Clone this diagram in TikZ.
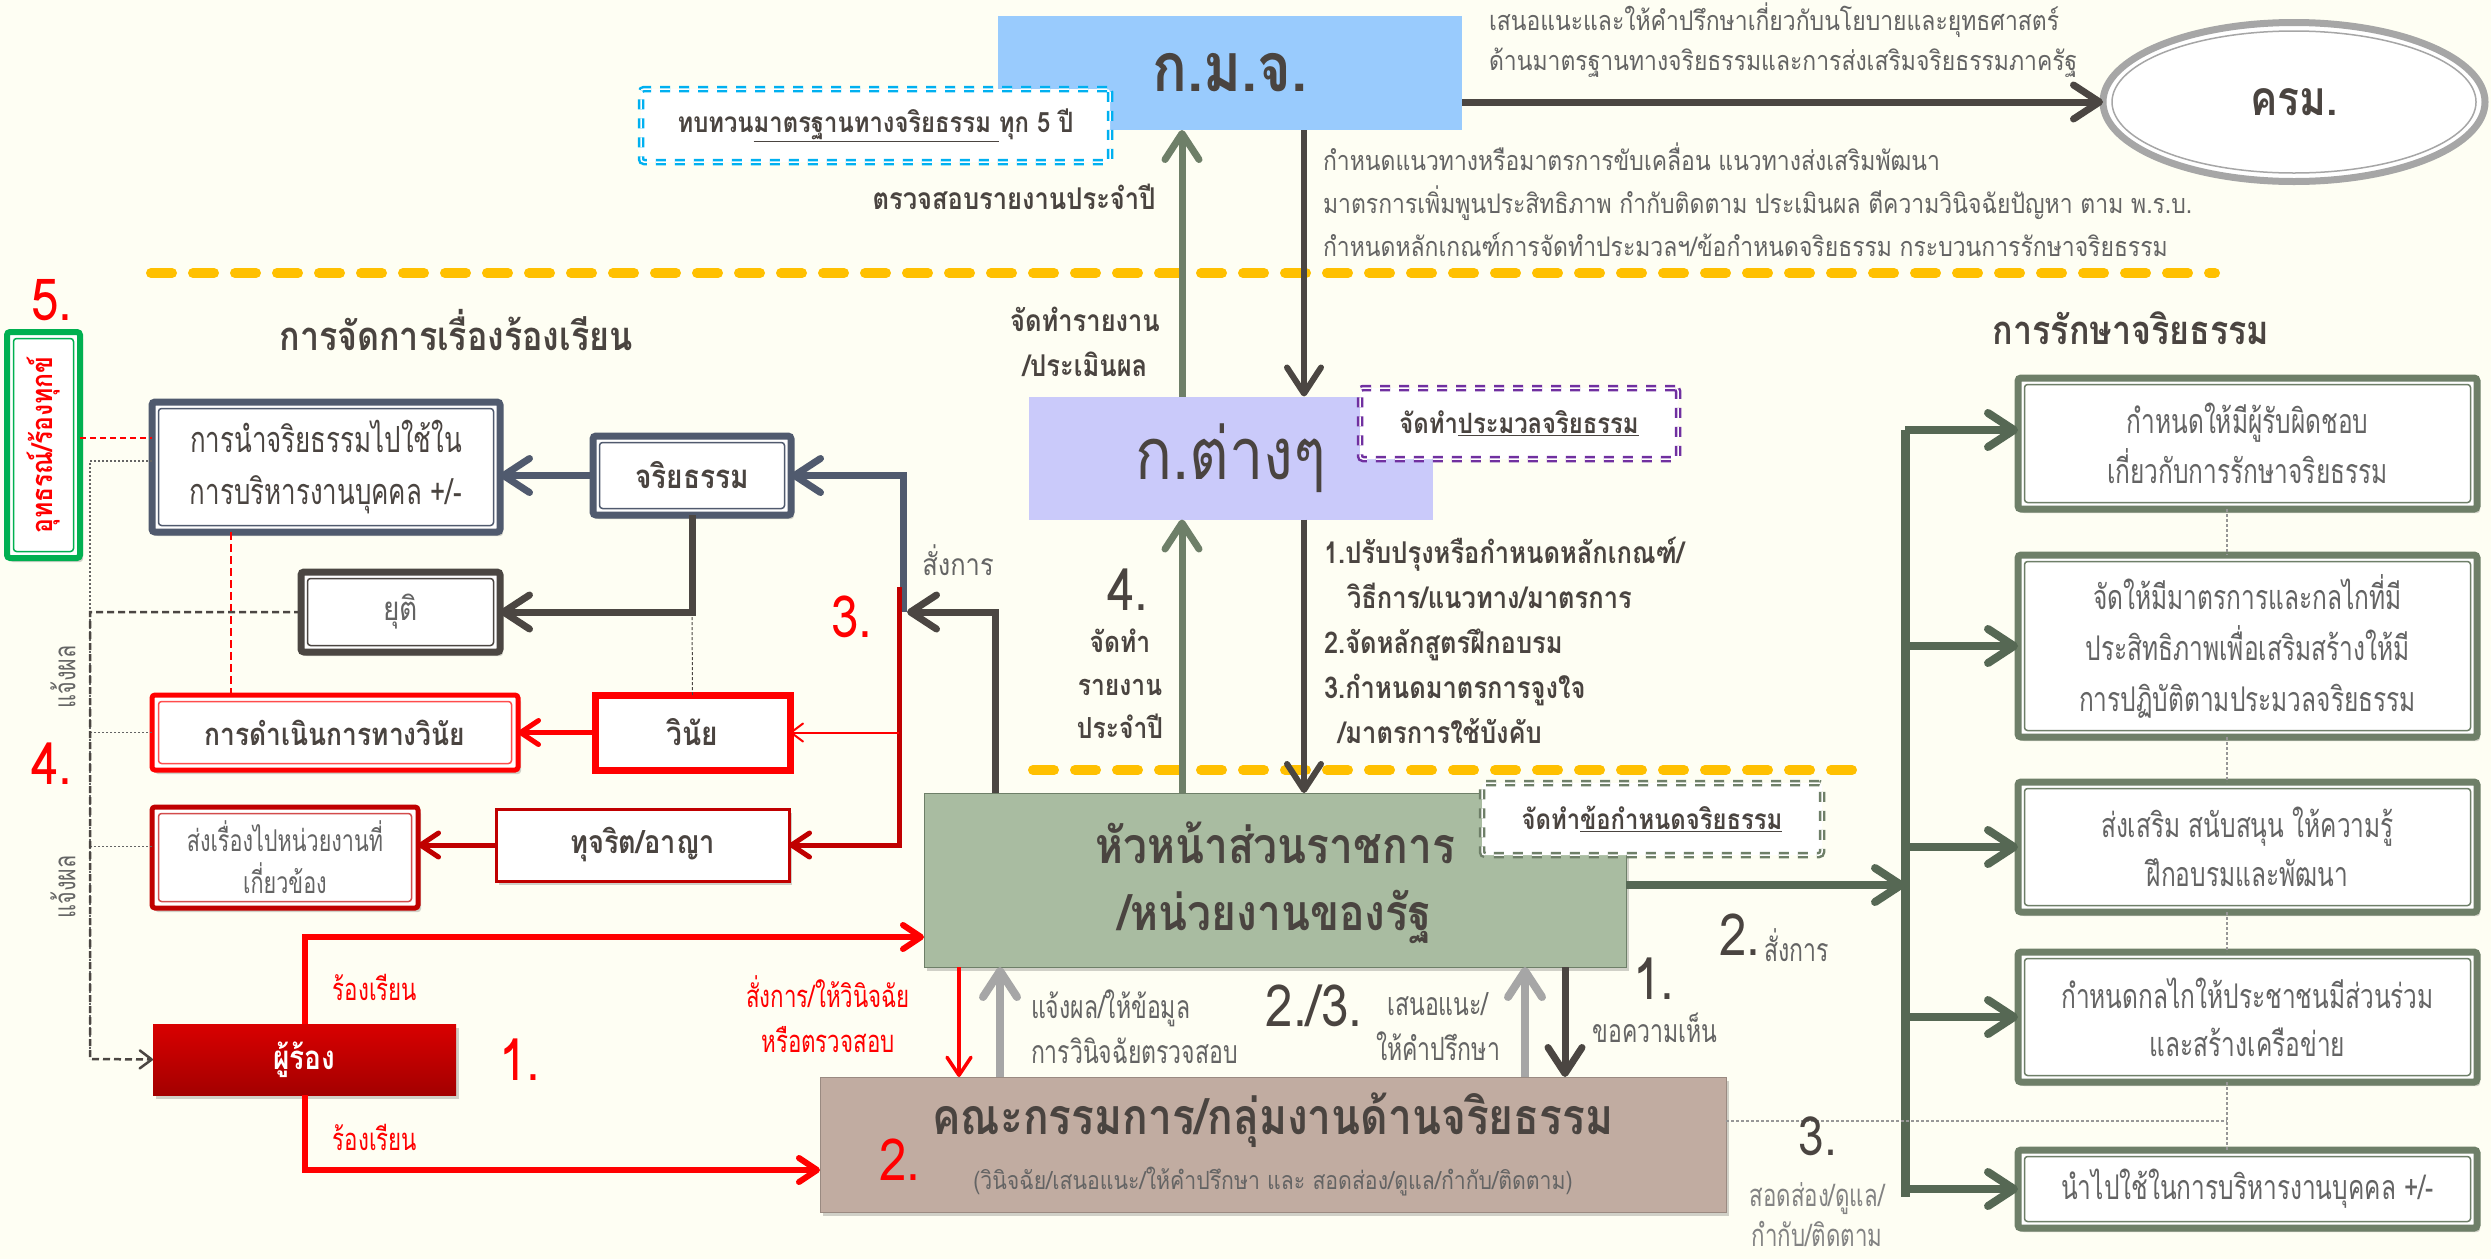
\documentclass[tikz,border=0pt]{standalone}
\usepackage{fontspec}
\setmainfont[Script=Thai, FakeStretch=0.85]{Loma}
\newfontfamily\cond[Script=Thai, FakeStretch=0.72]{Loma}
\usetikzlibrary{arrows.meta, calc, shapes.geometric, shadows}
\definecolor{bg}{RGB}{254,254,243}
\definecolor{kmjblue}{RGB}{153,203,253}
\definecolor{lav}{RGB}{202,202,250}
\definecolor{sage}{RGB}{169,188,161}
\definecolor{combrown}{RGB}{193,172,161}
\definecolor{tdark}{RGB}{74,68,64}
\definecolor{tgray}{RGB}{100,100,100}
\definecolor{slate}{RGB}{80,90,110}
\definecolor{dbrown}{RGB}{75,70,66}
\definecolor{rgreen}{RGB}{110,127,104}
\definecolor{agreen}{RGB}{86,104,84}
\definecolor{darkred}{RGB}{192,0,0}
\definecolor{pgreen}{RGB}{0,176,80}
\definecolor{cyanb}{RGB}{0,176,240}
\definecolor{purp}{RGB}{112,48,160}
\definecolor{yel}{RGB}{255,192,0}
\definecolor{lgray}{RGB}{166,166,166}
\definecolor{egray}{RGB}{150,150,150}
\newcommand\fsz[2]{\fontsize{#1}{#2}\selectfont}
\begin{document}
\begin{tikzpicture}[x=1pt,y=-1pt,
  every node/.style={inner sep=0pt,outer sep=0pt},
  lab/.style={text=tgray, font=\fsz{30}{45}, align=center},
  blab/.style={text=tdark, font=\bfseries\fsz{30}{45}, align=center},
  num/.style={text=tdark, font=\fsz{58}{60}},
  rnum/.style={text=red, font=\fsz{58}{60}},
  shad/.style={drop shadow={shadow xshift=3pt, shadow yshift=-4pt, opacity=0.18, fill=black}},
  inbord/.style n args={3}{path picture={\draw[#1, line width=#3] ([shift={(#2,#2)}]path picture bounding box.south west) rectangle ([shift={(-#2,-#2)}]path picture bounding box.north east);}},
  dbox/.style 2 args={rectangle, draw=#1, line width=7pt, rounded corners=3pt, fill=white, shad, inbord={#2}{6.5pt}{1.5pt}},
  dashbox/.style={rectangle, draw=#1, line width=2.5pt, double=white, double distance=1.5pt, dash pattern=on 10pt off 9pt, fill=white, rounded corners=3pt},
  BA/.style={-{Straight Barb[length=26pt,width=34pt,round]}},
  MA/.style={-{Straight Barb[length=18pt,width=24pt,round]}},
  SA/.style={-{Straight Barb[length=12pt,width=18pt,round]}},
  thindash/.style={egray, line width=1.2pt, dash pattern=on 3pt off 2pt},
  rtext/.style={text=tgray, font=\cond\fsz{34}{51}, align=center},
]
\useasboundingbox (0,0) rectangle (2491,1259);
\fill[bg] (0,0) rectangle (2491,1259);

% separators
\draw[yel, line width=10pt, line cap=round, dash pattern=on 21pt off 21pt] (151,273) -- (2215,273);
\draw[yel, line width=10pt, line cap=round, dash pattern=on 21pt off 21pt] (1033,770) -- (1854,770);

% helper coordinates
\coordinate (xg) at (1182,0);
\coordinate (xd) at (1304,0);
\coordinate (x1) at (959,0);
\coordinate (x2) at (1000,0);
\coordinate (x3) at (1525,0);
\coordinate (x4) at (1565,0);
\coordinate (s3) at (903,612);
\coordinate (c995) at (995,612);
\coordinate (rt) at (899,587);
\coordinate (ya) at (0,438);
\coordinate (xr) at (231,0);
\coordinate (lx) at (90,1059);
\coordinate (bk1) at (1905,430);
\coordinate (bk5) at (1905,1197);
\coordinate (bkm) at (1905,885);
\coordinate (dl) at (2227,1121);

% ---------- main boxes ----------
\node[fill=kmjblue, minimum width=464pt, minimum height=114pt, text=tdark, font=\bfseries\fsz{68}{70}] (kmj) at (1230,73) {ก.ม.จ.};
\node[fill=lav, minimum width=404pt, minimum height=123pt, text=tdark, font=\fsz{72}{74}] (kt) at (1231,458) {ก.ต่างๆ};
\node[fill=sage, draw=rgreen, line width=1pt, shad, minimum width=702pt, minimum height=174pt] (head) at (1275,880) {};
\node[text=tdark, font=\bfseries\fsz{50}{50}] (headt1) at (1275,843) {หัวหน้าส่วนราชการ};
\node[text=tdark, font=\bfseries\fsz{50}{50}] (headt2) at (1275,917) {/หน่วยงานของรัฐ};
\node[fill=combrown, draw=combrown!80!black, line width=1pt, shad, minimum width=906pt, minimum height=135pt] (com) at (1273,1144.5) {};
\node[text=tdark, font=\bfseries\fsz{50}{50}] (comt) at (1273,1120) {คณะกรรมการ/กลุ่มงานด้านจริยธรรม};
\node[text=tgray, font=\fsz{25}{25}] (coms) at (1273,1182) {(วินิจฉัย/เสนอแนะ/ให้คำปรึกษา และ สอดส่อง/ดูแล/กำกับ/ติดตาม)};

\node[ellipse, draw=lgray, line width=7pt, fill=white, minimum width=382pt, minimum height=159pt, text=tdark, font=\bfseries\fsz{48}{48},
  path picture={\draw[lgray, line width=1.5pt] (path picture bounding box.center) ellipse [x radius=182pt, y radius=71pt];}] (krm) at (2294,102) {ครม.};

\node[dashbox=cyanb, minimum width=469pt, minimum height=73pt, text=tdark, font=\bfseries\fsz{28}{30}] (rev) at (875.5,125.5) {ทบทวน\underline{มาตรฐานทางจริยธรรม }ทุก 5 ปี};
\node[dashbox=purp, minimum width=318pt, minimum height=71pt, text=tdark, font=\bfseries\fsz{28}{30}] (pm) at (1519,423.5) {จัดทำ\underline{ประมวลจริยธรรม}};
\node[dashbox=rgreen, minimum width=340pt, minimum height=72pt, text=tdark, font=\bfseries\fsz{28}{30}] (req) at (1652,819) {จัดทำ\underline{ข้อกำหนดจริยธรรม}};

% right column boxes
\node[dbox={rgreen}{rgreen}, minimum width=459pt, minimum height=131pt, rtext, font=\cond\fsz{34}{50}] (r1) at (2247.5,443.5) {กำหนดให้มีผู้รับผิดชอบ\\เกี่ยวกับการรักษาจริยธรรม};
\node[dbox={rgreen}{rgreen}, minimum width=459pt, minimum height=182pt, rtext] (r2) at (2247.5,646) {จัดให้มีมาตรการและกลไกที่มี\\ประสิทธิภาพเพื่อเสริมสร้างให้มี\\การปฏิบัติตามประมวลจริยธรรม};
\node[dbox={rgreen}{rgreen}, minimum width=459pt, minimum height=130pt, rtext, font=\cond\fsz{34}{49}] (r3) at (2247.5,847) {ส่งเสริม สนับสนุน ให้ความรู้\\ฝึกอบรมและพัฒนา};
\node[dbox={rgreen}{rgreen}, minimum width=459pt, minimum height=130pt, rtext, font=\cond\fsz{34}{48}] (r4) at (2247.5,1017) {กำหนดกลไกให้ประชาชนมีส่วนร่วม\\และสร้างเครือข่าย};
\node[dbox={rgreen}{rgreen}, minimum width=459pt, minimum height=78pt, rtext, font=\cond\fsz{34}{40}] (r5) at (2247.5,1189) {นำไปใช้ในการบริหารงานบุคคล +/-};

% left side boxes
\node[dbox={slate}{slate}, minimum width=348pt, minimum height=130pt, text=tdark, font=\cond\fsz{36}{52}, align=center] (A) at (326,467) {การนำจริยธรรมไปใช้ใน\\การบริหารงานบุคคล +/-};
\node[dbox={slate}{slate}, minimum width=198pt, minimum height=79pt, text=tdark, font=\bfseries\fsz{33}{40}] (B) at (692,475.5) {จริยธรรม};
\node[dbox={dbrown}{dbrown}, minimum width=199pt, minimum height=80pt, text=tgray, font=\fsz{33}{40}] (C) at (400.5,612) {ยุติ};
\node[dbox={red}{red!70}, line width=5pt, minimum width=366pt, minimum height=75pt, text=tdark, font=\bfseries\fsz{31}{40}] (D) at (335,732.5) {การดำเนินการทางวินัย};
\node[rectangle, draw=red, line width=7pt, fill=white, shad, minimum width=195pt, minimum height=75pt, text=tdark, font=\bfseries\fsz{33}{40}] (E) at (692.5,732.5) {วินัย};
\node[dbox={darkred}{darkred!70}, line width=5pt, minimum width=266pt, minimum height=101pt, text=tgray, font=\cond\fsz{30}{42}, align=center] (F) at (285,857.5) {ส่งเรื่องไปหน่วยงานที่\\เกี่ยวข้อง};
\node[rectangle, draw=darkred, line width=3pt, fill=white, shad, minimum width=293pt, minimum height=72pt, text=tdark, font=\bfseries\fsz{32}{40}] (G) at (642.5,845) {ทุจริต/อาญา};
\node[rectangle, top color=red!85!black, bottom color=darkred!85!black, shad, minimum width=303pt, minimum height=71pt, text=white, font=\bfseries\fsz{33}{40}] (H) at (304.5,1059.5) {ผู้ร้อง};
\node[dbox={pgreen}{pgreen}, line width=6pt, minimum width=73pt, minimum height=226pt] (grn) at (43.5,445) {};
\node[rotate=90, text=red, font=\bfseries\fsz{29}{30}] (grnt) at (43.5,445) {อุทธรณ์/ร้องทุกข์};

% ---------- connectors ----------
\draw[dbrown, line width=7pt, BA] (kmj.east |- krm.west) -- (krm.west);
\draw[rgreen, line width=7pt, BA] (kt.north -| xg) -- (kmj.south -| xg);
\draw[dbrown, line width=6pt, BA] (kmj.south -| xd) -- (kt.north -| xd);
\draw[rgreen, line width=7pt, BA] (head.north -| xg) -- (kt.south -| xg);
\draw[dbrown, line width=6pt, BA] (kt.south -| xd) -- (head.north -| xd);

\draw[red, line width=3.5pt, MA] (head.south -| x1) -- (com.north -| x1);
\draw[lgray, line width=8pt, BA] (com.north -| x2) -- (head.south -| x2);
\draw[lgray, line width=8pt, BA] (com.north -| x3) -- (head.south -| x3);
\draw[dbrown, line width=7pt, BA] (head.south -| x4) -- (com.north -| x4);

\draw[agreen, line width=9pt] (bk1) -- (bk5);
\draw[agreen, line width=8pt, BA] (head.east |- bkm) -- (bkm);
\draw[agreen, line width=8pt, BA] (bk1) -- (bk1 -| r1.west);
\draw[agreen, line width=8pt, BA] (r2.west -| bk1) -- (r2.west);
\draw[agreen, line width=8pt, BA] (r3.west -| bk1) -- (r3.west);
\draw[agreen, line width=8pt, BA] (r4.west -| bk1) -- (r4.west);
\draw[agreen, line width=8pt, BA] (r5.west -| bk1) -- (r5.west);

\draw[thindash] (com.east |- dl) -- (dl);
\draw[thindash] (r1.south -| dl) -- (r2.north -| dl);
\draw[thindash] (r2.south -| dl) -- (r3.north -| dl);
\draw[thindash] (r3.south -| dl) -- (r4.north -| dl);
\draw[thindash] (r4.south -| dl) -- (r5.north -| dl);

\draw[slate, line width=7pt, BA] (s3) |- (B.east);
\draw[dbrown, line width=7pt, BA] (head.north -| c995) -- (c995) -- ([xshift=4pt]s3);
\draw[darkred, line width=5pt, MA] (rt) |- (G.east);
\draw[red, line width=2pt, SA] (E.east -| rt) -- (E.east);
\draw[slate, line width=7pt, BA] (B.west) -- (B.west -| A.east);
\draw[dbrown, line width=7pt, BA] (B.south) |- (C.east);
\draw[red, line width=5pt, MA] (E.west) -- (E.west -| D.east);
\draw[darkred, line width=5pt, MA] (G.west) -- (G.west -| F.east);
\draw[dbrown, line width=1pt, dash pattern=on 3pt off 2pt] (B.south |- C.east) -- (E.north);

\draw[red, line width=2.5pt, dash pattern=on 6pt off 4pt] (grn.east |- ya) -- (A.west |- ya);
\draw[red, line width=2pt, dash pattern=on 8pt off 4pt] (A.south -| xr) -- (D.north -| xr);
\draw[tgray, line width=1.2pt, dash pattern=on 2pt off 2pt] ([yshift=6pt]A.west) -| (lx);
\draw[tgray, line width=1.2pt, dash pattern=on 2pt off 2pt] (D.west) -- (D.west -| lx);
\draw[tgray, line width=1.2pt, dash pattern=on 2pt off 2pt] ([yshift=11pt]F.west) -- ([yshift=11pt]F.west -| lx);
\draw[dbrown, line width=2.5pt, dash pattern=on 7pt off 4pt, SA] (C.west) -| (lx) -- (H.west);

\draw[red, line width=6pt, MA] (H.north) |- ([yshift=-57pt]head.west);
\draw[red, line width=6pt, MA] (H.south) |- ([yshift=-25.5pt]com.west);

% ---------- labels ----------
\node[text=tgray, font=\fsz{27}{40}, align=left, anchor=west] (t1) at (1489,40) {เสนอแนะและให้คำปรึกษาเกี่ยวกับนโยบายและยุทธศาสตร์\\ด้านมาตรฐานทางจริยธรรมและการส่งเสริมจริยธรรมภาครัฐ};
\node[text=tgray, font=\fsz{27}{43}, align=left, anchor=west] (t2) at (1323,200) {กำหนดแนวทางหรือมาตรการขับเคลื่อน แนวทางส่งเสริมพัฒนา\\มาตรการเพิ่มพูนประสิทธิภาพ กำกับติดตาม ประเมินผล ตีความวินิจฉัยปัญหา ตาม พ.ร.บ.\\กำหนดหลักเกณฑ์การจัดทำประมวลฯ/ข้อกำหนดจริยธรรม กระบวนการรักษาจริยธรรม};
\node[blab] (t3) at (1014,197) {ตรวจสอบรายงานประจำปี};
\node[blab] (t4) at (1085,342) {จัดทำรายงาน\\/ประเมินผล};
\node[blab, align=left, anchor=west] (t5) at (1324,640) {1.ปรับปรุงหรือกำหนดหลักเกณฑ์/\\\hspace*{23pt}วิธีการ/แนวทาง/มาตรการ\\2.จัดหลักสูตรฝึกอบรม\\3.กำหนดมาตรการจูงใจ\\\hspace*{14pt}/มาตรการใช้บังคับ};
\node[num] (n4) at (1128,590) {4.};
\node[blab, font=\bfseries\fsz{29}{43}] (t6) at (1120,684) {จัดทำ\\รายงาน\\ประจำปี};
\node[lab] (t7) at (958,560) {สั่งการ};
\node[rnum] (rn3) at (852,617) {3.};
\node[rnum] (rn2) at (900,1160) {2.};
\node[rnum] (rn1) at (520,1060) {1.};
\node[rnum] (rn4) at (52,764) {4.};
\node[rnum] (rn5) at (52,300) {5.};
\node[lab, text=red, font=\cond\fsz{31}{45}] (t8) at (375,987) {ร้องเรียน};
\node[lab, text=red, font=\cond\fsz{31}{45}] (t9) at (375,1137) {ร้องเรียน};
\node[lab, text=red, font=\cond\fsz{31}{45}] (t10) at (828,1014) {สั่งการ/ให้วินิจฉัย\\หรือตรวจสอบ};
\node[lab, align=left, anchor=west, font=\cond\fsz{32}{45}] (t11) at (1031,1027) {แจ้งผล/ให้ข้อมูล\\การวินิจฉัยตรวจสอบ};
\node[num] (n23) at (1314,1006) {2./3.};
\node[lab, font=\cond\fsz{32}{45}] (t12) at (1438,1027) {เสนอแนะ/\\ให้คำปรึกษา};
\node[num] (n1) at (1654,979) {1.};
\node[lab, font=\cond\fsz{32}{45}] (t13) at (1655,1028) {ขอความเห็น};
\node[num] (n2) at (1740,935) {2.};
\node[lab, anchor=west, font=\cond\fsz{32}{45}] (t14) at (1764,945) {สั่งการ};
\node[num, font=\fsz{54}{56}] (n3) at (1818,1136) {3.};
\node[lab, text=tgray!80, font=\cond\fsz{31}{40}] (t15) at (1817,1215) {สอดส่อง/ดูแล/\\กำกับ/ติดตาม};
\node[text=tdark, font=\bfseries\fsz{40}{40}] (h1) at (2131,328) {การรักษาจริยธรรม};
\node[text=tdark, font=\bfseries\fsz{40}{40}] (h2) at (456,330) {การจัดการเรื่องร้องเรียน};
\node[lab, rotate=90, font=\cond\fsz{30}{30}] (t16) at (63,677) {แจ้งผล};
\node[lab, rotate=90, font=\cond\fsz{30}{30}] (t17) at (63,887) {แจ้งผล};
\end{tikzpicture}
\end{document}
